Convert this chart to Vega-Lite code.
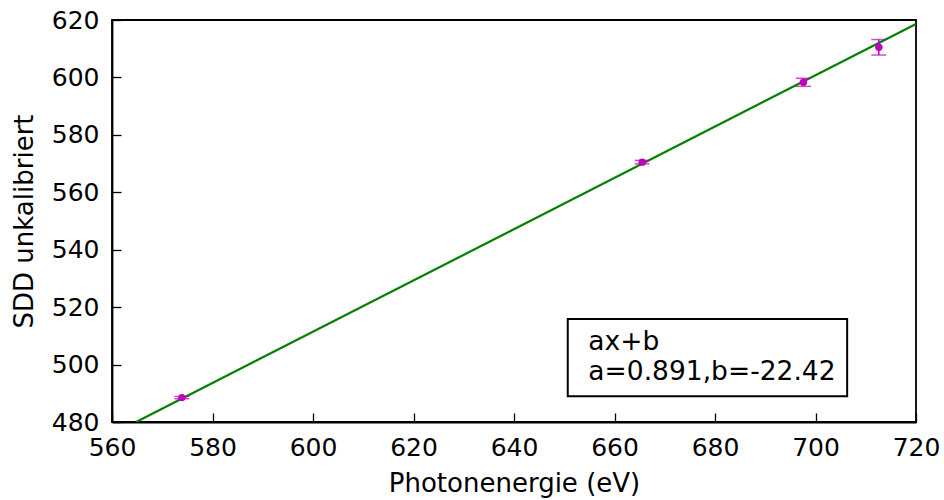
{
  "$schema": "https://vega.github.io/schema/vega-lite/v6.json",
  "autosize": "none",
  "width": 804,
  "height": 402,
  "padding": {"left": 112, "top": 20, "right": 28, "bottom": 78},
  "background": "white",
  "config": {
    "font": "DejaVu Sans",
    "view": {"stroke": "black", "strokeWidth": 1.8},
    "axis": {
      "labelFont": "DejaVu Sans",
      "titleFont": "DejaVu Sans",
      "labelFontSize": 25,
      "titleFontSize": 26,
      "titleFontWeight": "normal",
      "labelColor": "black",
      "titleColor": "black",
      "domainColor": "black",
      "domainWidth": 1.8,
      "tickColor": "black",
      "tickWidth": 1.3,
      "tickSize": -9,
      "labelFlush": false,
      "labelOverlap": false,
      "grid": false
    }
  },
  "datasets": {
    "pts": [
      {"E": 573.9, "S": 488.5, "err": 0.4},
      {"E": 665.5, "S": 570.5, "err": 0.6},
      {"E": 697.6, "S": 598.3, "err": 1.4},
      {"E": 712.6, "S": 610.5, "err": 2.7}
    ],
    "fit": [
      {"E": 564.8, "S": 480.0},
      {"E": 720, "S": 618.6}
    ],
    "box": [
      {"x1": 650.7, "x2": 706.3, "y1": 489.0, "y2": 515.9}
    ],
    "txt": [
      {"E": 654.8, "S": 505.1, "label": "ax+b"},
      {"E": 654.8, "S": 494.6, "label": "a=0.891,b=-22.42"}
    ]
  },
  "resolve": {"axis": {"x": "independent", "y": "independent"}},
  "layer": [
    {
      "data": {"name": "fit"},
      "mark": {"type": "line", "color": "#008000", "strokeWidth": 2.2, "clip": true},
      "encoding": {
        "x": {"field": "E", "type": "quantitative", "scale": {"domain": [560, 720], "nice": false, "zero": false},
          "axis": {"title": "Photonenergie (eV)", "values": [560,580,600,620,640,660,680,700,720], "labelPadding": 22, "titlePadding": 10}},
        "y": {"field": "S", "type": "quantitative", "scale": {"domain": [480, 620], "nice": false, "zero": false},
          "axis": {"title": "SDD unkalibriert", "values": [480,500,520,540,560,580,600,620], "labelPadding": 22, "titlePadding": 14}}
      }
    },
    {
      "data": {"name": "pts"},
      "transform": [
        {"calculate": "datum.S - datum.err", "as": "lo"},
        {"calculate": "datum.S + datum.err", "as": "hi"}
      ],
      "layer": [
        {
          "mark": {"type": "rule", "color": "#bf00bf", "strokeWidth": 1.5},
          "encoding": {
            "x": {"field": "E", "type": "quantitative", "scale": {"domain": [560, 720], "nice": false, "zero": false}, "axis": {"orient": "top", "labels": false, "title": null, "values": [560,580,600,620,640,660,680,700,720]}},
            "y": {"field": "lo", "type": "quantitative", "scale": {"domain": [480, 620], "nice": false, "zero": false}, "axis": {"orient": "right", "labels": false, "title": null, "values": [480,500,520,540,560,580,600,620]}},
            "y2": {"field": "hi"}
          }
        },
        {
          "mark": {"type": "tick", "color": "#bf00bf", "orient": "horizontal", "size": 15, "thickness": 1.5},
          "encoding": {
            "x": {"field": "E", "type": "quantitative", "scale": {"domain": [560, 720], "nice": false, "zero": false}, "axis": null},
            "y": {"field": "lo", "type": "quantitative", "scale": {"domain": [480, 620], "nice": false, "zero": false}, "axis": null}
          }
        },
        {
          "mark": {"type": "tick", "color": "#bf00bf", "orient": "horizontal", "size": 15, "thickness": 1.5},
          "encoding": {
            "x": {"field": "E", "type": "quantitative", "scale": {"domain": [560, 720], "nice": false, "zero": false}, "axis": null},
            "y": {"field": "hi", "type": "quantitative", "scale": {"domain": [480, 620], "nice": false, "zero": false}, "axis": null}
          }
        },
        {
          "mark": {"type": "point", "filled": true, "color": "#bf00bf", "opacity": 1, "size": 55},
          "encoding": {
            "x": {"field": "E", "type": "quantitative", "scale": {"domain": [560, 720], "nice": false, "zero": false}, "axis": null},
            "y": {"field": "S", "type": "quantitative", "scale": {"domain": [480, 620], "nice": false, "zero": false}, "axis": null}
          }
        }
      ]
    },
    {
      "data": {"name": "box"},
      "mark": {"type": "rect", "fill": "white", "stroke": "black", "strokeWidth": 2},
      "encoding": {
        "x": {"field": "x1", "type": "quantitative", "scale": {"domain": [560, 720], "nice": false, "zero": false}, "axis": null},
        "x2": {"field": "x2"},
        "y": {"field": "y1", "type": "quantitative", "scale": {"domain": [480, 620], "nice": false, "zero": false}, "axis": null},
        "y2": {"field": "y2"}
      }
    },
    {
      "data": {"name": "txt"},
      "mark": {"type": "text", "align": "left", "baseline": "alphabetic", "fontSize": 26.5, "font": "DejaVu Sans", "color": "black"},
      "encoding": {
        "x": {"field": "E", "type": "quantitative", "scale": {"domain": [560, 720], "nice": false, "zero": false}, "axis": null},
        "y": {"field": "S", "type": "quantitative", "scale": {"domain": [480, 620], "nice": false, "zero": false}, "axis": null},
        "text": {"field": "label"}
      }
    }
  ]
}
